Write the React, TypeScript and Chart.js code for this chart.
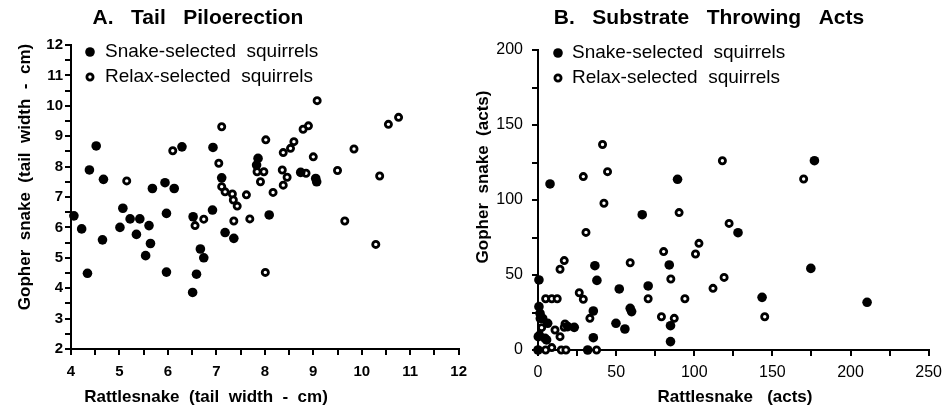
import React, { useEffect, useRef } from "react";
import { Chart, registerables } from "chart.js";

Chart.register(...registerables);

// ---- Data: A. Tail piloerection (tail width, cm) ----
const tailSnakeX = [4.06, 4.22, 4.34, 4.38, 4.52, 4.65, 4.67, 5.01, 5.07, 5.22, 5.35, 5.42, 5.54, 5.61, 5.64, 5.68, 5.94, 5.97, 5.97, 6.13, 6.29, 6.51, 6.52, 6.59, 6.67, 6.74, 6.92, 6.93, 7.11, 7.18, 7.36, 7.83, 7.86, 8.09, 8.74, 9.05, 9.07];
const tailSnakeY = [6.38, 5.95, 4.49, 7.89, 8.68, 5.59, 7.58, 6.0, 6.63, 6.28, 5.77, 6.28, 5.07, 6.06, 5.47, 7.28, 7.47, 6.46, 4.53, 7.28, 8.65, 3.86, 6.35, 4.46, 5.29, 5.0, 6.57, 8.63, 7.63, 5.83, 5.64, 8.05, 8.27, 6.41, 7.81, 7.61, 7.5];
const tailRelaxX = [5.15, 6.1, 6.56, 6.74, 7.05, 7.11, 7.11, 7.18, 7.33, 7.35, 7.43, 7.36, 7.62, 7.69, 7.84, 7.98, 7.91, 8.02, 8.17, 8.01, 8.36, 8.38, 8.38, 8.46, 8.53, 8.6, 8.79, 8.9, 8.85, 9.0, 9.08, 9.5, 9.65, 9.84, 10.29, 10.37, 10.55, 10.76];
const tailRelaxY = [7.53, 8.52, 6.06, 6.27, 8.11, 9.31, 7.34, 7.17, 7.1, 6.9, 6.7, 6.21, 7.07, 6.28, 7.83, 7.83, 7.5, 8.88, 7.15, 4.52, 7.89, 8.46, 7.39, 7.65, 8.6, 8.82, 9.23, 9.34, 7.78, 8.32, 10.17, 7.87, 6.21, 8.58, 5.44, 7.69, 9.39, 9.62];

// ---- Data: B. Substrate throwing acts ----
const actsSnakeX = [7.7, 66.7, 89.3, 176.9, 128, 0.6, 36.4, 37.7, 84, 70.5, 52, 59, 59.9, 84.8, 84.8, 49.9, 55.6, 35.4, 35.4, 31.8, 0.6, 1.3, 6.2, 0.2, 4.5, 5.5, 19, 23.2, 0, 174.6, 143.4, 210.6, 3];
const actsSnakeY = [110.7, 90.2, 113.8, 126.2, 78.2, 46.7, 56.2, 46.4, 56.7, 42.7, 40.7, 27.8, 25.6, 16.2, 5.6, 17.8, 14, 26, 8.2, 0, 28.9, 24.4, 17.8, 8.9, 7.8, 6.7, 15.6, 15.1, 0, 54.4, 35.1, 31.8, 21];
const actsRelaxX = [29, 41.3, 44.5, 42.2, 90.3, 118, 170, 30.7, 122.3, 14.1, 16.8, 59, 80.4, 85, 100.8, 103, 112, 119.1, 94, 70.5, 26.4, 29, 33.2, 37.5, 4.9, 8.8, 12.3, 1.3, 2.3, 10.9, 14.1, 17.3, 16.8, 8.8, 4.9, 14.9, 17.9, 79, 87.2, 145.1, 1];
const actsRelaxY = [115.6, 137, 118.9, 97.8, 91.6, 126.2, 114, 78.4, 84.4, 53.8, 59.6, 58.2, 65.6, 47.3, 64, 71.1, 41.1, 48.4, 34.2, 34.2, 38.2, 33.8, 21.1, 0, 34.2, 34.2, 34.2, 21, 14.9, 13.3, 8.9, 17.3, 15.1, 1.6, 0, 0, 0, 22.2, 21.1, 22.2, 10];

const legendLabels = ["Snake-selected  squirrels", "Relax-selected  squirrels"];

const FONT = "'Liberation Sans', Arial, Helvetica, sans-serif";

const pts = (xs: number[], ys: number[]) => xs.map((x, i) => ({ x, y: ys[i] }));

const filledStyle = { pointRadius: 4.8, pointBackgroundColor: "#000", pointBorderColor: "#000", pointBorderWidth: 0 };
const openStyle = { pointRadius: 3.1, pointBackgroundColor: "#fff", pointBorderColor: "#000", pointBorderWidth: 2.8 };

type TextSpec = { text: string; x: number; y: number; font: string; rotate?: boolean; align?: CanvasTextAlign };

function makeTextPlugin(texts: TextSpec[], legend: { x: number; y: number; tx: number }[]) {
  return {
    id: "customText",
    afterDraw(chart: any) {
      const ctx = chart.ctx as CanvasRenderingContext2D;
      ctx.save();
      ctx.fillStyle = "#000";
      ctx.textBaseline = "middle";
      for (const t of texts) {
        ctx.font = t.font;
        ctx.textAlign = t.align || "center";
        if (t.rotate) {
          ctx.save();
          ctx.translate(t.x, t.y);
          ctx.rotate(-Math.PI / 2);
          ctx.fillText(t.text, 0, 0);
          ctx.restore();
        } else {
          ctx.fillText(t.text, t.x, t.y);
        }
      }
      legend.forEach((l, i) => {
        const st = i === 0 ? filledStyle : openStyle;
        ctx.beginPath();
        ctx.arc(l.x, l.y, st.pointRadius, 0, Math.PI * 2);
        ctx.fillStyle = st.pointBackgroundColor;
        ctx.fill();
        if (st.pointBorderWidth > 0) {
          ctx.lineWidth = st.pointBorderWidth;
          ctx.strokeStyle = "#000";
          ctx.stroke();
        }
        ctx.fillStyle = "#000";
        ctx.font = `19px ${FONT}`;
        ctx.textAlign = "left";
        ctx.fillText(legendLabels[i], l.tx, l.y);
      });
      ctx.restore();
    },
  };
}

function axisOpts(min: number, max: number, step: number, labelEvery: number, fixed: number, isY: boolean, bold: boolean, pad: number) {
  return {
    type: "linear",
    min,
    max,
    afterFit(scale: any) {
      if (isY) scale.width = fixed;
      else scale.height = fixed;
    },
    ticks: {
      stepSize: step,
      autoSkip: false,
      maxRotation: 0,
      padding: pad,
      color: "#000",
      font: { family: FONT, size: bold ? 15 : 16, weight: bold ? "bold" : "normal" },
      callback: (v: number) => (Math.abs(v / labelEvery - Math.round(v / labelEvery)) < 1e-6 ? String(v) : ""),
    },
    grid: { display: true, drawOnChartArea: false, drawTicks: true, tickLength: 6, color: "#000", lineWidth: 2 },
    border: { display: true, color: "#000", width: 2 },
    title: { display: false },
  };
}

export default function App() {
  const leftRef = useRef<HTMLCanvasElement>(null);
  const rightRef = useRef<HTMLCanvasElement>(null);

  useEffect(() => {
    const left = new Chart(leftRef.current!, {
      type: "scatter",
      data: {
        datasets: [
          { label: legendLabels[0], data: pts(tailSnakeX, tailSnakeY), ...filledStyle, clip: false } as any,
          { label: legendLabels[1], data: pts(tailRelaxX, tailRelaxY), ...openStyle, clip: false } as any,
        ],
      },
      options: {
        responsive: false,
        animation: false,
        layout: { padding: { left: 0, top: 45, right: 16, bottom: 0 } },
        plugins: { legend: { display: false }, tooltip: { enabled: false }, title: { display: false } },
        scales: {
          x: axisOpts(4, 12, 0.5, 1, 65, false, true, 8) as any,
          y: axisOpts(2, 12, 0.5, 1, 71, true, true, 2) as any,
        },
      },
      plugins: [
        makeTextPlugin(
          [
            { text: "A.   Tail   Piloerection", x: 198, y: 18, font: `bold 21px ${FONT}` },
            { text: "Rattlesnake  (tail  width  -  cm)", x: 206, y: 397, font: `bold 17px ${FONT}` },
            { text: "Gopher  snake  (tail  width  -  cm)", x: 25, y: 177, font: `bold 17px ${FONT}`, rotate: true },
          ],
          [
            { x: 90, y: 52, tx: 105 },
            { x: 90, y: 77, tx: 105 },
          ]
        ) as any,
      ],
    });

    const right = new Chart(rightRef.current!, {
      type: "scatter",
      data: {
        datasets: [
          { label: legendLabels[0], data: pts(actsSnakeX, actsSnakeY), ...filledStyle, clip: false } as any,
          { label: legendLabels[1], data: pts(actsRelaxX, actsRelaxY), ...openStyle, clip: false } as any,
        ],
      },
      options: {
        responsive: false,
        animation: false,
        layout: { padding: { left: 0, top: 50, right: 20, bottom: 0 } },
        plugins: { legend: { display: false }, tooltip: { enabled: false }, title: { display: false } },
        scales: {
          x: axisOpts(0, 250, 25, 50, 64, false, false, 7) as any,
          y: axisOpts(0, 200, 25, 50, 63, true, false, 9) as any,
        },
      },
      plugins: [
        makeTextPlugin(
          [
            { text: "B.   Substrate   Throwing   Acts", x: 709 - 475, y: 18, font: `bold 21px ${FONT}` },
            { text: "Rattlesnake   (acts)", x: 735 - 475, y: 397, font: `bold 17px ${FONT}` },
            { text: "Gopher  snake  (acts)", x: 483 - 475, y: 177, font: `bold 17px ${FONT}`, rotate: true },
          ],
          [
            { x: 558 - 475, y: 53, tx: 572 - 475 },
            { x: 558 - 475, y: 78, tx: 572 - 475 },
          ]
        ) as any,
      ],
    });

    return () => {
      left.destroy();
      right.destroy();
    };
  }, []);

  return (
    <div style={{ position: "absolute", left: 0, top: 0, width: 949, height: 414, background: "#fff" }}>
      <canvas ref={leftRef} width={475} height={414} style={{ position: "absolute", left: 0, top: 0, width: 475, height: 414 }} />
      <canvas ref={rightRef} width={474} height={414} style={{ position: "absolute", left: 475, top: 0, width: 474, height: 414 }} />
    </div>
  );
}
